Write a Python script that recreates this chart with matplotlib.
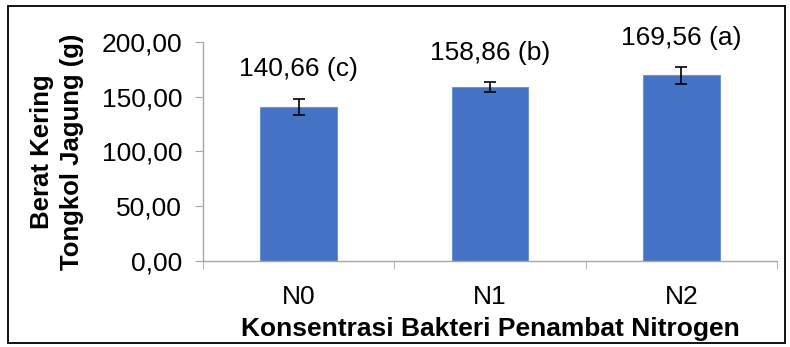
import numpy as np
import matplotlib.pyplot as plt
from matplotlib.patches import Rectangle
from matplotlib.ticker import FuncFormatter, FixedLocator

plt.rcParams['font.family'] = ['Liberation Sans', 'DejaVu Sans']

# data berat kering tongkol per perlakuan
perlakuan = ['N0', 'N1', 'N2']
berat = [140.66, 158.86, 169.56]
galat = [7.7, 4.3, 7.7]
notasi = ['c', 'b', 'a']

fig = plt.figure(figsize=(7.9, 3.47), dpi=100)
ax = fig.add_axes([0.257, 0.248, 0.7265, 0.631])

x = np.arange(len(perlakuan))
ax.bar(x, berat, width=0.4, color='#4472C4', edgecolor='#6F93D6', linewidth=0.8, zorder=2)
ax.errorbar(x, berat, yerr=galat, fmt='none', ecolor='black', elinewidth=1.2,
            capsize=4.5, capthick=1.2, zorder=3)

# label nilai + notasi huruf di atas batang
for xi, v, e, n in zip(x, berat, galat, notasi):
    teks = f'{v:.2f}'.replace('.', ',') + f' ({n})'
    ax.annotate(teks, (xi, v + e), xytext=(0, 21), textcoords='offset points',
                ha='center', va='center', fontsize=19)

ax.set_xlim(-0.5, 2.5)
ax.set_ylim(0, 200)
ax.set_yticks(np.arange(0, 201, 50))
ax.yaxis.set_major_formatter(FuncFormatter(lambda v, p: f'{v:.2f}'.replace('.', ',')))

ax.set_xticks(x)
ax.set_xticklabels(perlakuan)
ax.xaxis.set_minor_locator(FixedLocator([-0.5, 0.5, 1.5, 2.5]))

abu = '#A6A6A6'
for s in ['top', 'right']:
    ax.spines[s].set_visible(False)
for s in ['left', 'bottom']:
    ax.spines[s].set_color(abu)
    ax.spines[s].set_linewidth(1.0)

ax.tick_params(axis='y', which='major', length=6, color=abu, labelsize=19, pad=9)
ax.tick_params(axis='x', which='major', length=0, labelsize=19, pad=17)
ax.tick_params(axis='x', which='minor', length=6, color=abu)

ax.set_ylabel('Berat Kering\nTongkol Jagung (g)', fontsize=18.5, fontweight='bold',
              labelpad=13, linespacing=1.3)
ax.set_xlabel('Konsentrasi Bakteri Penambat Nitrogen', fontsize=19,
              fontweight='bold', labelpad=6)

# bingkai luar grafik
fig.patches.append(Rectangle((0.0101, 0.0115), 0.9836, 0.9712, transform=fig.transFigure,
                             fill=False, edgecolor='black', linewidth=1.3))

fig.savefig('out.png', dpi=100)
